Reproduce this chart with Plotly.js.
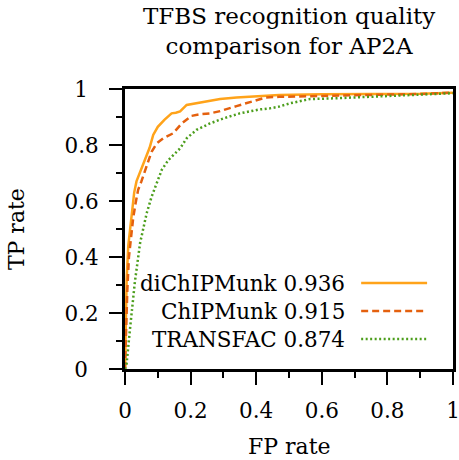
<!DOCTYPE html>
<html>
<head>
<meta charset="utf-8">
<script src="https://cdn.plot.ly/plotly-3.0.1.min.js"></script>
<style>html,body{margin:0;padding:0;background:#fff;}#chart{width:459px;height:460px;}</style>
</head>
<body>
<div id="chart"></div>
<script>
// ROC curves
var seriesNames = ["diChIPMunk 0.936", "ChIPMunk 0.915", "TRANSFAC 0.874"];
var xTitle = "FP rate";
var yTitle = "TP rate";

var fpDi = [0, 0.002, 0.005, 0.01, 0.015, 0.02, 0.028, 0.035, 0.045, 0.055, 0.065, 0.075, 0.086, 0.1, 0.12, 0.142, 0.155, 0.168, 0.188, 0.22, 0.25, 0.29, 0.34, 0.41, 0.47, 0.6, 0.75, 0.9, 1.0];
var tpDi = [0, 0.2, 0.32, 0.44, 0.5, 0.56, 0.63, 0.67, 0.70, 0.73, 0.76, 0.79, 0.836, 0.865, 0.89, 0.913, 0.915, 0.92, 0.943, 0.95, 0.955, 0.964, 0.97, 0.975, 0.979, 0.981, 0.982, 0.983, 0.987];

var fpChip = [0, 0.003, 0.007, 0.012, 0.018, 0.025, 0.032, 0.04, 0.05, 0.061, 0.071, 0.081, 0.097, 0.117, 0.147, 0.16, 0.173, 0.203, 0.23, 0.259, 0.29, 0.34, 0.40, 0.43, 0.47, 0.6, 0.75, 0.9, 1.0];
var tpChip = [0, 0.15, 0.28, 0.40, 0.47, 0.54, 0.59, 0.64, 0.67, 0.705, 0.74, 0.776, 0.806, 0.824, 0.842, 0.86, 0.877, 0.904, 0.91, 0.913, 0.921, 0.939, 0.961, 0.97, 0.972, 0.976, 0.979, 0.982, 0.987];

var fpTf = [0, 0.005, 0.015, 0.03, 0.046, 0.055, 0.066, 0.081, 0.097, 0.112, 0.132, 0.152, 0.168, 0.188, 0.218, 0.259, 0.30, 0.35, 0.41, 0.442, 0.47, 0.503, 0.544, 0.564, 0.645, 0.747, 0.848, 0.95, 1.0];
var tpTf = [0, 0.02, 0.14, 0.31, 0.45, 0.50, 0.556, 0.615, 0.663, 0.711, 0.746, 0.77, 0.788, 0.824, 0.854, 0.877, 0.895, 0.913, 0.927, 0.931, 0.937, 0.949, 0.958, 0.964, 0.967, 0.972, 0.976, 0.98, 0.985];

var tickVals = [0, 0.2, 0.4, 0.6, 0.8, 1];
var xTickText = ["0", "0.2", "0.4", "0.6", "0.8", "1"];
var yTickText = ["0\u2002", "0.2", "0.4", "0.6", "0.8", "1\u2002"];

var colors = ["#ffa31a", "#e4600e", "#4c9e1c"];
var dashes = ["solid", "7px,4px", "2px,2.5px"];
var widths = [2.5, 2.5, 2.5];

var FONT = "DejaVu Serif";
var xs = [fpDi, fpChip, fpTf];
var ys = [tpDi, tpChip, tpTf];

var traces = xs.map(function (x, i) {
  return {
    x: x, y: ys[i], type: "scatter", mode: "lines", name: seriesNames[i],
    line: {color: colors[i], width: widths[i], dash: dashes[i]},
    showlegend: false, hoverinfo: "skip"
  };
});

// manual legend: text right-aligned before the sample line
var legendY = [0.307, 0.207, 0.107];
var annotations = seriesNames.map(function (n, i) {
  return {text: n, xref: "paper", yref: "paper", x: 0.677, y: legendY[i],
    xanchor: "right", yanchor: "middle", showarrow: false,
    font: {family: FONT, size: 21.5, color: "#000"}};
});
// axis titles
annotations.push({text: xTitle, xref: "paper", yref: "paper", x: 0.5, y: -0.275,
  xanchor: "center", yanchor: "middle", showarrow: false, borderpad: 0,
  font: {family: FONT, size: 22, color: "#000"}});
annotations.push({text: yTitle, xref: "paper", yref: "paper", x: -0.332, y: 0.5,
  xanchor: "center", yanchor: "middle", textangle: -90, showarrow: false,
  font: {family: FONT, size: 22, color: "#000"}});

var shapes = seriesNames.map(function (n, i) {
  return {type: "line", xref: "paper", yref: "paper", x0: 0.72, x1: 0.921,
    y0: legendY[i], y1: legendY[i],
    line: {color: colors[i], width: widths[i], dash: dashes[i]}};
});

var axisCommon = {
  range: [0, 1], tickmode: "array", tickvals: tickVals,
  ticks: "outside", ticklen: 13, tickwidth: 2, tickcolor: "#000",
  minor: {ticks: "outside", ticklen: 6, tickwidth: 2, tickcolor: "#000", dtick: 0.1, tick0: 0, showgrid: false},
  showline: true, linewidth: 3, linecolor: "#000", mirror: true,
  showgrid: false, zeroline: false, fixedrange: true,
  ticklabeloverflow: "allow", automargin: false,
  tickfont: {family: FONT, size: 21.5, color: "#000"}
};

var layout = {
  width: 459, height: 460,
  margin: {l: 125, r: 6, t: 89, b: 91},
  paper_bgcolor: "#fff", plot_bgcolor: "#fff",
  font: {family: FONT, color: "#000"},
  title: {text: "TFBS recognition quality<br>comparison for AP2A", x: 0.63, xanchor: "center",
    y: 0.947, yanchor: "top", yref: "container", font: {family: FONT, size: 23, color: "#000"}},
  xaxis: Object.assign({}, axisCommon, {ticktext: xTickText, ticklabelstandoff: 7}),
  yaxis: Object.assign({}, axisCommon, {ticktext: yTickText, ticklabelstandoff: 6}),
  annotations: annotations,
  shapes: shapes,
  showlegend: false
};

Plotly.newPlot("chart", traces, layout, {displayModeBar: false, staticPlot: true});
</script>
</body>
</html>
